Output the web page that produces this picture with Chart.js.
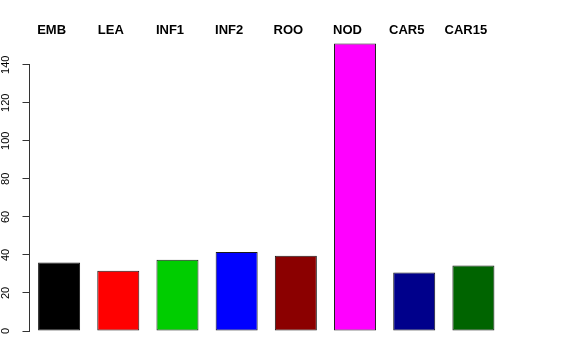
<!DOCTYPE html>
<html>
<head>
<meta charset="utf-8">
<script src="https://cdn.jsdelivr.net/npm/chart.js@4/dist/chart.umd.min.js"></script>
<style>
  html, body { margin: 0; padding: 0; background: #fff; }
  #wrap { width: 576px; height: 360px; }
</style>
</head>
<body>
<div id="wrap"><canvas id="barChart" width="576" height="360"></canvas></div>
<script>
const categories = ['EMB', 'LEA', 'INF1', 'INF2', 'ROO', 'NOD', 'CAR5', 'CAR15'];
const values = [36, 31.7, 37.5, 41.5, 39.6, 151.2, 30.7, 34.4];
const barColors = ['#000000', '#FF0000', '#00CD00', '#0000FF', '#8B0000', '#FF00FF', '#00008B', '#006400'];
const yTicks = [0, 20, 40, 60, 80, 100, 120, 140];

// R style axis line: only spans the first to last tick
const axisLine = {
    id: 'axisLine',
    afterDraw(chart) {
        const y = chart.scales.y;
        const ctx = chart.ctx;
        const x = Math.round(chart.chartArea.left) - 0.5;
        ctx.save();
        ctx.strokeStyle = '#333';
        ctx.lineWidth = 1;
        ctx.beginPath();
        ctx.moveTo(x, y.getPixelForValue(yTicks[0]));
        ctx.lineTo(x, y.getPixelForValue(yTicks[yTicks.length - 1]));
        ctx.stroke();
        ctx.restore();
    }
};

new Chart(document.getElementById('barChart'), {
    type: 'bar',
    data: {
        labels: categories,
        datasets: [{
            data: values,
            backgroundColor: barColors,
            borderColor: '#1a1a1a',
            borderWidth: 1,
            borderSkipped: false,
            barPercentage: 0.71,
            categoryPercentage: 1
        }]
    },
    options: {
        responsive: false,
        animation: false,
        layout: { padding: { top: 0, left: 0, right: 73, bottom: 29 } },
        plugins: { legend: { display: false }, tooltip: { enabled: false } },
        scales: {
            x: {
                position: 'top',
                grid: { display: false, drawTicks: false },
                border: { display: false },
                ticks: {
                    color: '#000',
                    font: { family: 'Liberation Sans', size: 13, weight: 'bold' },
                    labelOffset: -7.5,
                    padding: 2,
                    maxRotation: 0,
                    autoSkip: false
                },
                afterFit(scale) { scale.height = 40; }
            },
            y: {
                min: 0,
                max: 153,
                grid: { drawOnChartArea: false, tickLength: 7, color: '#333' },
                border: { display: false },
                ticks: {
                    color: '#000',
                    font: { family: 'Liberation Sans', size: 11 },
                    minRotation: 90,
                    maxRotation: 90,
                    crossAlign: 'center',
                    padding: 7
                },
                afterBuildTicks(scale) { scale.ticks = yTicks.map(v => ({ value: v })); },
                afterFit(scale) { scale.width = 29.5; }
            }
        }
    },
    plugins: [axisLine]
});
</script>
</body>
</html>
